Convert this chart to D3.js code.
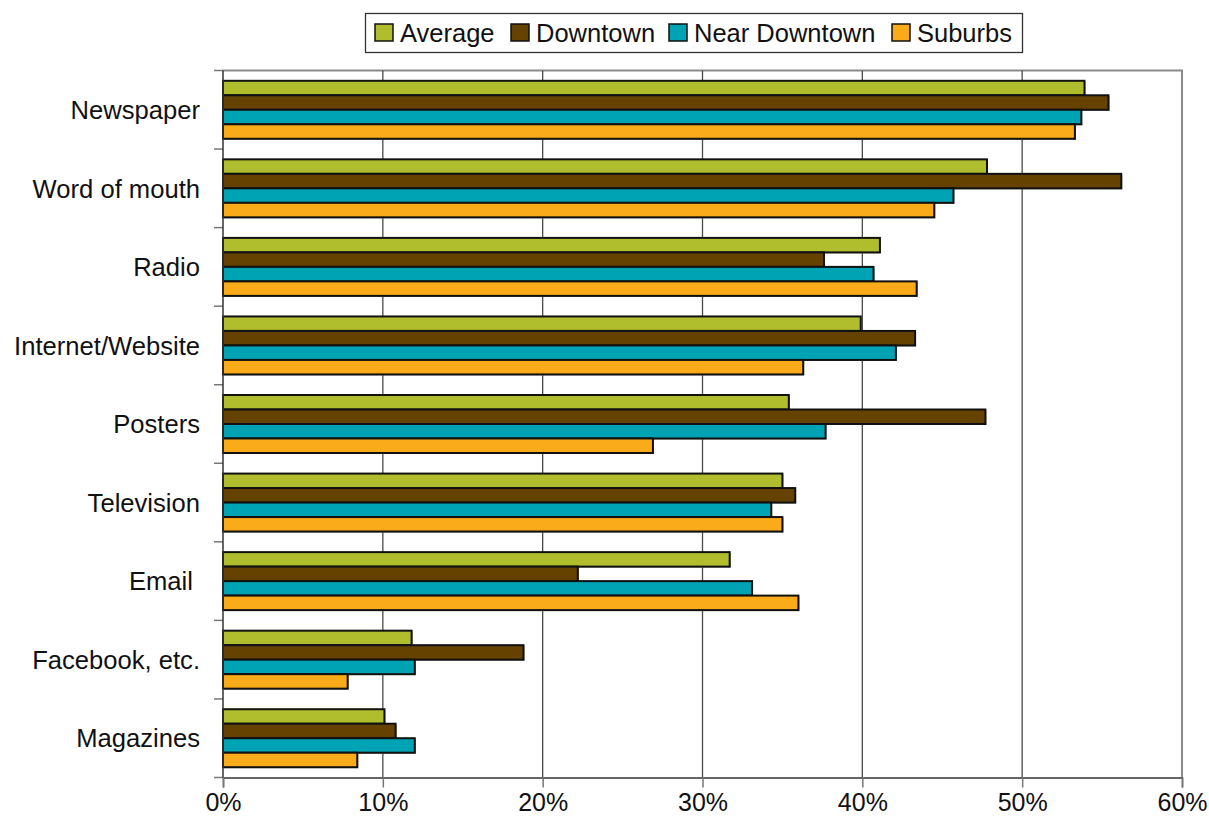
<!DOCTYPE html>
<html>
<head>
<meta charset="utf-8">
<script src="https://cdn.jsdelivr.net/npm/d3@7/dist/d3.min.js"></script>
<style>
  html, body { margin: 0; padding: 0; background: #fff; }
  svg { display: block; font-family: "Liberation Sans", Arial, sans-serif; }
</style>
</head>
<body>
<svg id="chart" width="1209" height="834"></svg>
<script>
// Media channels, top to bottom
const categories = ["Newspaper", "Word of mouth", "Radio", "Internet/Website", "Posters",
                    "Television", "Email\u00a0", "Facebook, etc.", "Magazines"];
const seriesNames = ["Average", "Downtown", "Near Downtown", "Suburbs"];
const seriesColors = ["#b0be2e", "#664200", "#00a3b3", "#f9ab19"];

// Share of respondents (%) per channel
const average      = [53.9, 47.8, 41.1, 39.9, 35.4, 35.0, 31.7, 11.8, 10.1];
const downtown     = [55.4, 56.2, 37.6, 43.3, 47.7, 35.8, 22.2, 18.8, 10.8];
const nearDowntown = [53.7, 45.7, 40.7, 42.1, 37.7, 34.3, 33.1, 12.0, 12.0];
const suburbs      = [53.3, 44.5, 43.4, 36.3, 26.9, 35.0, 36.0,  7.8,  8.4];
const xTicks = [0, 10, 20, 30, 40, 50, 60];

const seriesValues = [average, downtown, nearDowntown, suburbs];

const svg = d3.select("#chart");
const plot = { left: 223, right: 1182, top: 70.5, bottom: 777.5 };

const x = d3.scaleLinear().domain([0, 60]).range([plot.left, plot.right]);
const y = d3.scaleBand().domain(categories).range([plot.top, plot.bottom]).paddingInner(0.262).paddingOuter(0.131);
const ySeries = d3.scaleBand().domain(seriesNames).range([0, y.bandwidth()]);

// Plot frame (top and right)
svg.append("path")
  .attr("d", `M${plot.left},${plot.top}H${plot.right}V${plot.bottom}`)
  .attr("fill", "none").attr("stroke", "#8a8a8a").attr("stroke-width", 2);

// Vertical gridlines
svg.append("g").selectAll("line")
  .data(xTicks.filter(t => t > 0 && t < 60))
  .join("line")
  .attr("x1", d => x(d)).attr("x2", d => x(d))
  .attr("y1", plot.top).attr("y2", plot.bottom)
  .attr("stroke", "#4a4a4a").attr("stroke-width", 1.3);

// Bars
const groups = svg.append("g").selectAll("g")
  .data(categories)
  .join("g")
  .attr("transform", d => `translate(0,${y(d)})`);

const rows = (c, i) => seriesNames.map((s, j) => ({ s, v: seriesValues[j][i], j }));

groups.selectAll("rect.shadow")
  .data(rows)
  .join("rect")
  .attr("class", "shadow")
  .attr("x", x(0) + 1)
  .attr("y", d => ySeries(d.s) + 1)
  .attr("width", d => x(d.v) - x(0))
  .attr("height", ySeries.bandwidth())
  .attr("fill", "#9a9a9a");

groups.selectAll("rect.bar")
  .data(rows)
  .join("rect")
  .attr("class", "bar")
  .attr("x", x(0))
  .attr("y", d => ySeries(d.s))
  .attr("width", d => x(d.v) - x(0))
  .attr("height", ySeries.bandwidth())
  .attr("fill", d => seriesColors[d.j])
  .attr("stroke", "#111").attr("stroke-width", 2);

// Left axis with ticks at category boundaries
const boundaries = d3.range(categories.length + 1).map(i => plot.top + i * (plot.bottom - plot.top) / categories.length);
svg.append("g").selectAll("line")
  .data(boundaries)
  .join("line")
  .attr("x1", plot.left - 9).attr("x2", plot.left)
  .attr("y1", d => d).attr("y2", d => d)
  .attr("stroke", "#777").attr("stroke-width", 1.5);
svg.append("line")
  .attr("x1", plot.left).attr("x2", plot.left)
  .attr("y1", plot.top).attr("y2", plot.bottom)
  .attr("stroke", "#333").attr("stroke-width", 1.5);

// Category labels
svg.append("g").selectAll("text")
  .data(categories)
  .join("text")
  .attr("x", 200)
  .attr("y", d => y(d) + y.bandwidth() / 2)
  .attr("dy", "0.36em")
  .attr("text-anchor", "end")
  .attr("font-size", 25.6)
  .attr("fill", "#111")
  .style("white-space", "pre")
  .text(d => d);

// Bottom axis
const xAxis = d3.axisBottom(x)
  .tickValues(xTicks)
  .tickFormat(d => d + "%")
  .tickSize(10)
  .tickPadding(6);
const gx = svg.append("g")
  .attr("transform", `translate(0,${plot.bottom})`)
  .call(xAxis);
gx.select(".domain").attr("stroke", "#333").attr("stroke-width", 1.5);
gx.selectAll(".tick line").attr("stroke", "#777").attr("stroke-width", 1.5);
gx.selectAll(".tick text")
  .attr("font-size", 25)
  .attr("font-family", "'Liberation Sans', Arial, sans-serif")
  .attr("fill", "#111");

// Legend
const legend = svg.append("g");
legend.append("rect")
  .attr("x", 365.5).attr("y", 13.5).attr("width", 657).attr("height", 39)
  .attr("fill", "#fff").attr("stroke", "#333").attr("stroke-width", 1.3);
const swatchX = [375, 511, 669, 892];
const items = legend.selectAll("g.item")
  .data(seriesNames)
  .join("g")
  .attr("class", "item")
  .attr("transform", (d, i) => `translate(${swatchX[i]},24)`);
items.append("rect")
  .attr("width", 18).attr("height", 17)
  .attr("fill", (d, i) => seriesColors[i])
  .attr("stroke", "#111").attr("stroke-width", 1.5);
items.append("text")
  .attr("x", 25).attr("y", 8.5).attr("dy", "0.36em")
  .attr("font-size", 25.5)
  .attr("fill", "#111")
  .text(d => d);
</script>
</body>
</html>
